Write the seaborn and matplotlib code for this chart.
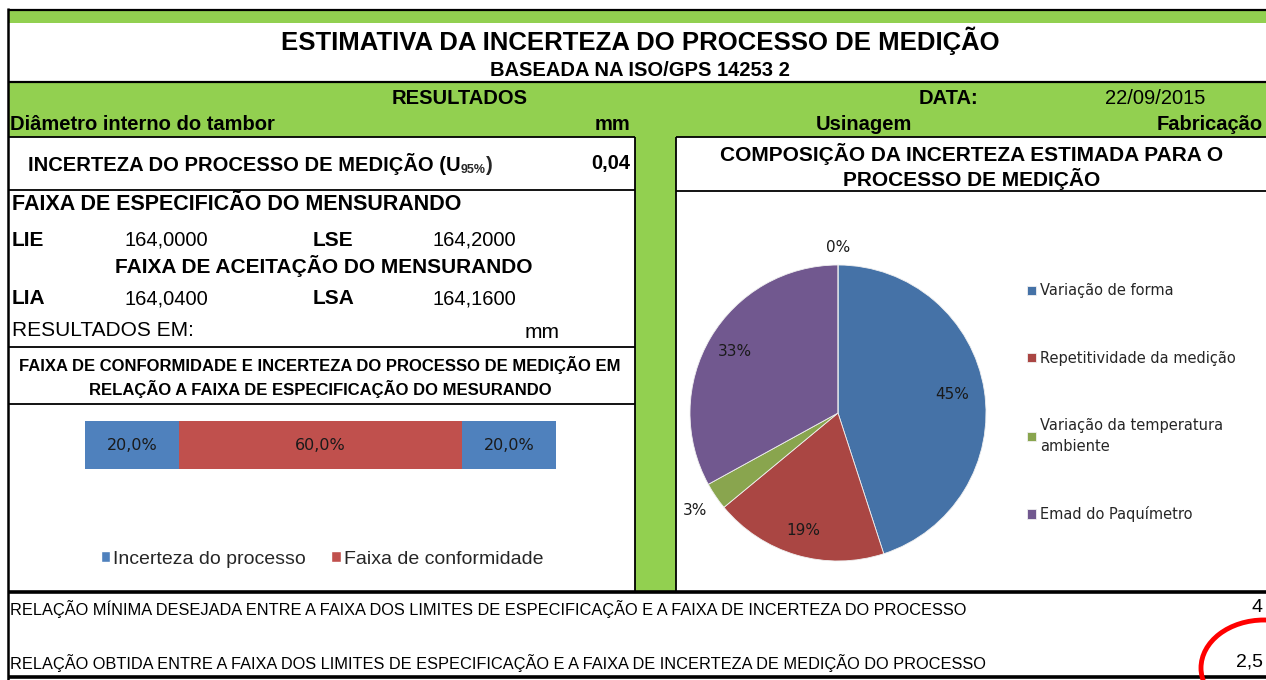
import matplotlib
matplotlib.use("Agg")
import matplotlib.pyplot as plt
from matplotlib.patches import Rectangle, Ellipse, Patch
import seaborn as sns
import numpy as np

# --- DADOS ---
faixa_labels = ["Incerteza do processo", "Faixa de conformidade", "Incerteza do processo"]
faixa_valores = [20.0, 60.0, 20.0]

pie_labels = ["Variação de forma", "Repetitividade da medição",
              "Variação da temperatura\nambiente", "Emad do Paquímetro", ""]
pie_valores = [45, 19, 3, 33, 0]

lie, lse = "164,0000", "164,2000"
lia, lsa = "164,0400", "164,1600"
incerteza_u95 = "0,04"
relacao_minima = "4"
relacao_obtida = "2,5"
data_str = "22/09/2015"

# --- ESTILO ---
VERDE = "#92D050"
bar_cores = ["#4F81BD", "#C0504D", "#4F81BD"]
pie_cores = ["#4572A7", "#AA4643", "#89A54E", "#71588F", "#4198AF"]
pie_raio_rotulo = [0.78, 0.83, 1.17, 0.81, 1.12]

sns.set_theme(style="white")
plt.rcParams["font.family"] = ["Liberation Sans Narrow", "Liberation Sans", "DejaVu Sans"]

W, H = 1266, 680
fig = plt.figure(figsize=(W / 100, H / 100), dpi=100)
fig.patch.set_facecolor("white")

bg = fig.add_axes([0, 0, 1, 1])
bg.set_xlim(0, W)
bg.set_ylim(H, 0)
bg.axis("off")


def px_axes(x0, y0, x1, y1):
    return fig.add_axes([x0 / W, 1 - y1 / H, (x1 - x0) / W, (y1 - y0) / H])


def linha(x0, y0, x1, y1, lw=1.3):
    bg.plot([x0, x1], [y0, y1], color="black", lw=lw, solid_capstyle="butt", zorder=3)


def txt(x, y, s, size=14.5, bold=False, ha="left", **kw):
    return bg.text(x, y, s, fontsize=size, fontweight="bold" if bold else "normal",
                   ha=ha, va="center", color="black", zorder=4, **kw)


# --- FUNDOS VERDES ---
bg.add_patch(Rectangle((8, 10), W - 8, 13, fc=VERDE, ec="none", zorder=1))
bg.add_patch(Rectangle((8, 82), W - 8, 55, fc=VERDE, ec="none", zorder=1))
bg.add_patch(Rectangle((635, 137), 41, 455, fc=VERDE, ec="none", zorder=1))

# --- BORDAS ---
linha(8, 10, W, 10, 1.6)
linha(8, 82, W, 82, 1.6)
linha(8, 8, 8, H, 1.8)
linha(8, 137, 635, 137)
linha(676, 137, W, 137)
linha(635, 137, 635, 592)
linha(676, 137, 676, 592)
linha(8, 190, 635, 190)
linha(8, 347, 635, 347)
linha(8, 404, 635, 404)
linha(676, 191, W, 191)
linha(8, 592, W, 592, 2.6)
linha(8, 677, W, 677, 2.6)

# --- TEXTOS ---
txt(640, 41, "ESTIMATIVA DA INCERTEZA DO PROCESSO DE MEDIÇÃO", 18.5, True, ha="center")
txt(640, 71, "BASEADA NA ISO/GPS 14253 2", 14.5, True, ha="center")
txt(460, 98, "RESULTADOS", 14.5, True, ha="center")
txt(948, 98, "DATA:", 14.5, True, ha="center")
txt(1155, 98.5, data_str, 14.5, ha="center")
txt(10, 124, "Diâmetro interno do tambor", 14.5, True)
txt(630, 124, "mm", 14.5, True, ha="right")
txt(864, 124, "Usinagem", 14.5, True, ha="center")
txt(1263, 124, "Fabricação", 14.5, True, ha="right")

t1 = txt(28, 164, "INCERTEZA DO PROCESSO DE MEDIÇÃO (U", 14.5, True)
t2 = bg.annotate("95%", xy=(1, 0), xycoords=t1, xytext=(0, -1), textcoords="offset points",
                 fontsize=9, fontweight="bold", va="bottom", ha="left", zorder=4)
bg.annotate(")", xy=(1, 0), xycoords=(t2, t1), fontsize=14.5, fontweight="bold",
            va="bottom", ha="left", zorder=4)
txt(630, 164, incerteza_u95, 14.5, True, ha="right")

txt(12, 205, "FAIXA DE ESPECIFICÃO DO MENSURANDO", 15.5, True)
txt(12, 240, "LIE", 15, True)
txt(125, 240, lie, 14.5)
txt(313, 240, "LSE", 15, True)
txt(432, 240, lse, 14.5)
txt(115, 266, "FAIXA DE ACEITAÇÃO DO MENSURANDO", 15, True)
txt(12, 299, "LIA", 15, True)
txt(125, 299, lia, 14.5)
txt(313, 299, "LSA", 15, True)
txt(432, 299, lsa, 14.5)
txt(12, 331, "RESULTADOS EM:", 15)
txt(560, 332, "mm", 15, ha="right")

txt(320, 365, "FAIXA DE CONFORMIDADE E INCERTEZA DO PROCESSO DE MEDIÇÃO EM", 12, True, ha="center")
txt(320, 389, "RELAÇÃO A FAIXA DE ESPECIFICAÇÃO DO MESURANDO", 12, True, ha="center")

txt(972, 154, "COMPOSIÇÃO DA INCERTEZA ESTIMADA PARA O", 15, True, ha="center")
txt(972, 179, "PROCESSO DE MEDIÇÃO", 15, True, ha="center")

txt(10, 609, "RELAÇÃO MÍNIMA DESEJADA ENTRE A FAIXA DOS LIMITES DE ESPECIFICAÇÃO "
             "E A FAIXA DE INCERTEZA DO PROCESSO", 11.8)
txt(1263, 608, relacao_minima, 14, ha="right")
txt(10, 663, "RELAÇÃO OBTIDA ENTRE A FAIXA DOS LIMITES DE ESPECIFICAÇÃO "
             "E A FAIXA DE INCERTEZA DE MEDIÇÃO DO PROCESSO", 11.8)
txt(1263, 662, relacao_obtida, 14, ha="right")

bg.add_patch(Ellipse((1264, 668), 126, 96, fill=False, ec="#FF0000", lw=3.5, zorder=5))

# --- BARRA EMPILHADA (FAIXA DE CONFORMIDADE) ---
ax_bar = px_axes(85, 421, 556, 469)
acumulado = np.cumsum(faixa_valores)
for i in reversed(range(len(faixa_valores))):
    sns.barplot(x=[acumulado[i]], y=[0], orient="h", color=bar_cores[i], width=1.0,
                saturation=1, linewidth=0, errorbar=None, ax=ax_bar)
for i, v in enumerate(faixa_valores):
    centro = acumulado[i] - v / 2
    ax_bar.text(centro, 0, f"{v:.1f}%".replace(".", ","), ha="center", va="center",
                fontsize=11.5, family="DejaVu Sans", color="#1a1a1a")
ax_bar.set_xlim(0, 100)
ax_bar.set_ylim(0.5, -0.5)
ax_bar.axis("off")

handles = [Patch(fc=bar_cores[0]), Patch(fc=bar_cores[1])]
ax_bar.legend(handles, faixa_labels[:2], loc="center", bbox_to_anchor=(322 / W, 1 - 559 / H),
              bbox_transform=fig.transFigure, ncol=2, frameon=False, handlelength=0.5,
              handleheight=0.5, handletextpad=0.15, columnspacing=1.3, fontsize=14)

# --- PIZZA (COMPOSIÇÃO DA INCERTEZA) ---
ax_pie = px_axes(690, 265, 986, 561)
wedges, _ = ax_pie.pie(pie_valores, colors=pie_cores, startangle=90, counterclock=False,
                       wedgeprops=dict(edgecolor="#f0f0f0", linewidth=0.6))
ax_pie.set_aspect("auto")
ax_pie.set_xlim(-1, 1)
ax_pie.set_ylim(-1, 1)
ax_pie.patch.set_alpha(0)
for w, v, r in zip(wedges, pie_valores, pie_raio_rotulo):
    ang = np.deg2rad((w.theta1 + w.theta2) / 2)
    ax_pie.text(r * np.cos(ang), r * np.sin(ang), f"{v}%", ha="center", va="center",
                fontsize=11, family="DejaVu Sans", color="#1a1a1a", clip_on=False)

leg = ax_pie.legend(wedges[:4], pie_labels[:4], loc="upper left",
                    bbox_to_anchor=(1020 / W, 1 - 276 / H), bbox_transform=fig.transFigure,
                    frameon=False, borderpad=0, labelspacing=3.6, handlelength=0.6,
                    handleheight=0.6, handletextpad=0.25,
                    prop=dict(family="DejaVu Sans", size=10.5))
leg.get_texts()[2].set_linespacing(1.45)

fig.savefig("out.png", dpi=100, facecolor="white")
